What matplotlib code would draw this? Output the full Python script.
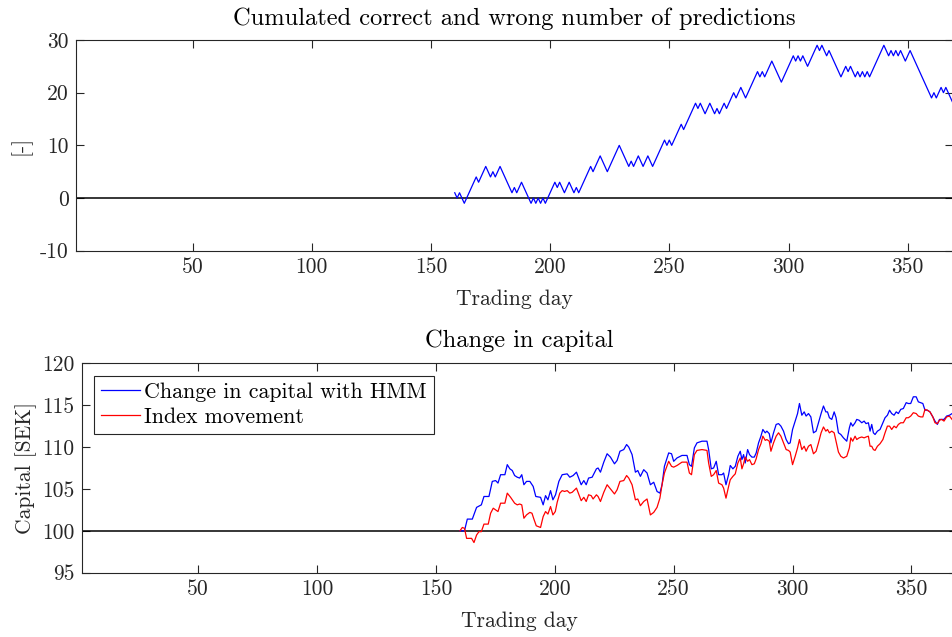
import matplotlib
matplotlib.use("Agg")
import matplotlib.pyplot as plt

plt.rcParams["font.family"] = ["cmr10", "DejaVu Serif"]
plt.rcParams["mathtext.fontset"] = "cm"
plt.rcParams["axes.unicode_minus"] = False
plt.rcParams["axes.formatter.use_mathtext"] = False

TXT = (0.15, 0.15, 0.15)
FS = 15.5
FS_TITLE = 17.6

# cumulated correct minus wrong predictions (turning points of the walk)
pred_days = [160, 161, 162, 164, 169, 170, 173, 175, 176, 177, 179, 184, 185, 186, 188,
             192, 193, 194, 195, 196, 197, 198, 202, 203, 204, 206, 208, 210, 211, 212,
             217, 218, 221, 224, 229, 233, 234, 235, 237, 239, 241, 243, 248, 249, 250,
             251, 255, 256, 261, 262, 263, 265, 267, 269, 270, 271, 273, 274, 277, 278,
             280, 282, 287, 288, 289, 290, 293, 297, 302, 303, 304, 305, 306, 308, 312,
             313, 314, 316, 317, 322, 324, 325, 326, 328, 329, 330, 331, 332, 333, 334,
             340, 342, 343, 344, 345, 346, 347, 349, 351, 360, 361, 362, 364, 365, 366,
             368, 369]
pred_vals = [1, 0, 1, -1, 4, 3, 6, 4, 5, 4, 6, 1, 2, 1, 3,
             -1, 0, -1, 0, -1, 0, -1, 3, 2, 3, 1, 3, 1, 2, 1,
             6, 5, 8, 5, 10, 6, 7, 6, 8, 6, 8, 6, 11, 10, 11,
             10, 14, 13, 18, 17, 18, 16, 18, 16, 17, 16, 18, 17, 20, 19,
             21, 19, 24, 23, 24, 23, 26, 22, 27, 26, 27, 26, 27, 25, 29,
             28, 29, 27, 28, 23, 25, 24, 25, 23, 24, 23, 24, 23, 24, 23,
             29, 27, 28, 27, 28, 27, 28, 26, 28, 19, 20, 19, 21, 20, 21,
             19, 18]

# capital with HMM strategy
hmm_days = [160.1, 162.0, 163.2, 165.3, 167.1, 169.1, 170.2, 172.3, 173.7, 175.1, 176.1,
            177.2, 179.0, 180.0, 181.1, 182.1, 183.1, 184.2, 185.2, 186.1, 187.0, 188.1,
            189.5, 190.9, 192.0, 194.0, 195.1, 196.1, 197.1, 198.2, 199.2, 200.3, 201.7,
            203.1, 205.2, 206.3, 207.7, 209.1, 211.1, 212.2, 213.2, 214.2, 215.7, 217.5,
            218.2, 219.2, 220.6, 222.0, 223.4, 225.1, 226.2, 227.4, 229.0, 230.2, 231.1,
            232.5, 233.9, 234.9, 236.0, 237.4, 238.8, 240.2, 241.6, 243.0, 244.2, 245.1,
            246.1, 247.9, 249.1, 250.0, 251.4, 253.5, 255.6, 256.6, 257.5,
            258.7, 259.8, 261.9, 264.0, 264.7, 265.8, 266.8, 267.9, 268.9, 270.3, 271.0,
            272.0, 273.1, 273.8, 274.9, 275.9, 277.0, 278.0, 278.7, 279.4, 280.1, 281.1,
            281.9, 282.9, 283.9, 284.7, 285.7, 286.7, 287.5, 288.5, 289.2, 290.2, 290.9,
            292.0, 293.1, 294.1, 295.1, 296.2, 297.3, 298.3, 299.0, 300.0, 301.1, 302.1,
            302.9, 303.9, 304.9, 305.7, 306.7, 307.7, 308.8, 309.9, 310.9, 312.0, 313.0,
            314.0, 314.7, 315.5, 316.5, 317.5, 318.3, 319.3, 320.3, 321.4, 322.8, 323.9,
            324.5, 325.3, 326.3, 327.0, 328.0, 329.1, 330.1, 330.9, 331.9, 332.6, 333.3,
            334.0, 334.7, 335.7, 336.8, 338.0, 338.9, 339.9, 340.8, 341.7, 342.7, 343.6,
            344.5, 345.5, 346.6, 347.8, 348.7, 349.7, 350.8, 352.0, 352.9, 353.9, 354.8,
            355.7, 356.7, 357.8, 359.0, 359.9, 360.9, 361.8, 362.7, 363.7, 364.8, 366.0,
            367.1]
hmm_vals = [100.0, 100.0, 101.4, 101.4, 102.8, 103.1, 104.1, 104.1, 105.9, 106.0, 105.7,
            106.7, 106.7, 107.9, 107.4, 107.2, 106.6, 106.4, 106.3, 106.7, 105.5, 105.9,
            105.9, 105.3, 104.1, 104.0, 103.1, 104.2, 103.7, 104.8, 103.7, 104.3, 105.9,
            106.7, 106.8, 106.4, 106.6, 107.0, 105.5, 106.0, 105.5, 106.3, 106.4, 107.4,
            107.5, 107.0, 108.2, 109.2, 108.8, 108.0, 108.4, 109.5, 109.7, 110.3, 110.0,
            109.1, 107.0, 107.2, 106.5, 107.3, 106.9, 105.5, 105.8, 104.7, 104.5, 105.5,
            107.7, 109.3, 109.2, 108.3, 108.7, 109.0, 109.0, 107.9, 107.7,
            109.9, 110.5, 110.7, 110.7, 109.7, 107.4, 107.5, 108.3, 106.7, 106.7, 106.9,
            105.5, 106.7, 107.8, 107.4, 107.7, 108.9, 109.5, 108.5, 109.1, 108.1, 109.7,
            109.1, 108.8, 108.8, 109.3, 110.5, 111.3, 112.1, 111.7, 111.9, 111.6, 110.5,
            111.7, 112.7, 112.8, 112.5, 111.9, 110.9, 110.4, 110.5, 112.1, 113.1, 114.0,
            115.2, 113.8, 114.2, 113.7, 114.0, 113.6, 111.7, 111.9, 112.9, 114.0, 114.9,
            114.2, 114.2, 113.5, 113.3, 114.2, 113.5, 111.7, 111.5, 111.1, 110.7, 112.3,
            112.9, 112.5, 112.9, 113.3, 113.2, 112.9, 113.1, 112.8, 112.9, 111.9, 112.7,
            111.7, 111.5, 111.9, 112.1, 112.9, 113.5, 113.8, 114.4, 114.0, 113.8, 114.2,
            114.0, 114.5, 114.6, 115.3, 115.2, 115.2, 116.0, 116.0, 115.4, 115.3, 115.2,
            114.4, 114.4, 114.2, 113.6, 113.1, 112.7, 113.3, 113.3, 113.3, 113.7, 113.8,
            114.0]

# index movement
idx_days = [160.1, 161.1, 162.0, 162.9, 165.0, 166.0, 167.1, 168.1, 169.1, 170.2, 172.0,
            173.0, 174.1, 175.1, 176.1, 177.2, 179.0, 180.0, 181.4, 183.1, 184.2, 185.2,
            186.1, 187.0, 188.1, 189.5, 190.4, 191.2, 192.2, 194.0, 195.1, 196.1, 197.1,
            198.2, 199.2, 200.2, 201.0, 202.1, 203.1, 204.1, 205.2, 206.3, 207.3, 209.1,
            211.1, 212.2, 213.2, 214.2, 215.3, 216.1, 217.5, 218.2, 219.2, 220.6, 222.0,
            223.4, 225.1, 226.2, 227.4, 229.0, 230.2, 231.1, 232.5, 233.9, 234.9, 236.0,
            237.4, 238.8, 240.2, 241.6, 243.0, 244.2, 245.1, 246.1, 247.9, 249.1, 250.0,
            251.4, 253.5, 255.6, 256.6, 257.5,
            258.7, 259.8, 261.9, 264.0, 264.7, 265.8, 266.8, 267.9, 268.9, 270.3, 271.0,
            272.0, 273.1, 273.8, 274.9, 275.9, 277.0, 278.0, 278.7, 279.4, 280.1, 281.1,
            281.9, 282.9, 283.9, 284.7, 285.7, 286.7, 287.5, 288.5, 289.2, 290.2, 290.9,
            292.0, 293.1, 294.1, 295.1, 296.2, 297.3, 298.3, 299.0, 300.0, 301.1, 302.1,
            302.9, 303.9, 304.9, 305.7, 306.7, 307.7, 308.8, 309.9, 310.9, 312.0, 313.0,
            314.0, 314.7, 315.5, 316.5, 317.5, 318.3, 319.3, 320.3, 321.4, 322.8, 323.9,
            324.5, 325.3, 326.3, 327.0, 328.0, 329.1, 330.1, 330.9, 331.9, 332.6, 333.3,
            334.0, 334.7, 335.7, 336.8, 338.0, 338.9, 339.9, 340.8, 341.7, 342.7, 343.6,
            344.5, 345.5, 346.6, 347.8, 348.7, 349.7, 350.8, 352.0, 352.9, 353.9, 354.8,
            355.7, 356.7, 357.8, 359.0, 359.9, 360.9, 361.8, 362.7, 363.7, 364.8, 366.0,
            367.1]
idx_vals = [100.0, 100.4, 100.3, 99.1, 99.1, 98.6, 99.5, 99.9, 99.9, 100.8, 100.8,
            102.1, 102.7, 102.5, 102.3, 103.3, 103.3, 104.5, 104.0, 103.3, 103.1, 103.2,
            103.1, 101.5, 101.9, 102.2, 102.1, 101.4, 100.6, 100.4, 101.7, 102.3, 102.0,
            102.9, 101.9, 102.3, 103.4, 104.5, 104.8, 104.7, 104.8, 104.5, 104.6, 105.1,
            103.6, 104.0, 103.5, 104.3, 104.2, 103.8, 104.3, 104.1, 103.5, 104.6, 105.5,
            105.0, 104.4, 104.9, 105.9, 106.0, 106.6, 106.3, 105.5, 103.7, 103.8, 103.0,
            103.5, 103.8, 101.9, 102.2, 102.8, 103.9, 105.5, 106.9, 108.3, 107.7, 107.6,
            107.8, 108.2, 108.2, 106.9, 106.7,
            109.1, 109.6, 109.7, 109.6, 108.1, 106.5, 106.7, 107.2, 105.7, 105.5, 105.1,
            103.9, 105.3, 106.1, 106.5, 106.8, 108.1, 108.7, 107.4, 108.0, 108.8, 108.3,
            108.5, 107.9, 108.0, 108.6, 109.7, 110.4, 111.3, 110.8, 110.9, 110.7, 109.5,
            110.5, 111.3, 111.7, 111.3, 110.5, 109.7, 109.6, 109.4, 107.9, 108.9, 109.9,
            110.9, 109.7, 110.1, 109.5, 110.1, 110.3, 109.2, 109.5, 110.5, 111.7, 112.4,
            111.9, 112.1, 111.7, 111.9, 111.7, 110.7, 109.4, 108.9, 108.7, 108.9, 109.9,
            111.1, 110.7, 111.3, 110.9, 111.1, 111.2, 111.1, 111.2, 111.3, 110.1, 110.1,
            109.7, 109.6, 110.1, 110.4, 110.9, 111.7, 112.5, 112.5, 112.1, 112.5, 112.3,
            112.7, 112.9, 112.9, 113.5, 113.5, 113.7, 114.1, 114.0, 113.7, 113.6, 113.6,
            114.5, 114.4, 114.2, 113.6, 112.9, 112.8, 113.2, 113.3, 113.1, 113.6, 113.7,
            113.3]

x_ticks = [50, 100, 150, 200, 250, 300, 350]

W, H = 952, 637
fig = plt.figure(figsize=(W / 100, H / 100), dpi=100)


def px_axes(left, top, right, bottom):
    return fig.add_axes([left / W, 1 - bottom / H, (right - left) / W, (bottom - top) / H])


def style(ax):
    for s in ax.spines.values():
        s.set_color(TXT)
        s.set_linewidth(0.8)
    ax.tick_params(direction="in", length=6, width=0.8, colors=TXT, labelsize=FS,
                   top=True, right=True, pad=5)
    ax.set_xticks(x_ticks)
    ax.set_xlim(1, 369)


ax1 = px_axes(75.7, 40, 953, 250.7)
style(ax1)
ax1.axhline(0, color="k", lw=1.1)
ax1.plot(pred_days, pred_vals, color=(0, 0, 1), lw=0.9)
ax1.set_ylim(-10, 30)
ax1.set_yticks([-10, 0, 10, 20, 30])
ax1.set_title("Cumulated correct and wrong number of predictions", fontsize=FS_TITLE,
              color="k", pad=11)
ax1.set_xlabel("Trading day", fontsize=FS, color=TXT, labelpad=9)
ax1.set_ylabel("[-]", fontsize=FS, color=TXT, labelpad=6)

ax2 = px_axes(81.7, 363.3, 956.6, 572.7)
style(ax2)
ax2.axhline(100, color="k", lw=1.1)
ax2.plot(hmm_days, hmm_vals, color=(0, 0, 1), lw=0.9, label="Change in capital with HMM")
ax2.plot(idx_days, idx_vals, color=(1, 0, 0), lw=0.9, label="Index movement")
ax2.set_ylim(95, 120)
ax2.set_yticks([95, 100, 105, 110, 115, 120])
ax2.set_title("Change in capital", fontsize=FS_TITLE, color="k", pad=12)
ax2.set_xlabel("Trading day", fontsize=FS, color=TXT, labelpad=9)
ax2.set_ylabel("Capital [SEK]", fontsize=FS, color=TXT, labelpad=4)

leg = ax2.legend(loc="upper left", bbox_to_anchor=(0.014, 0.939), borderaxespad=0,
                 fontsize=15.8, handlelength=1.8, handletextpad=0.2, labelspacing=0.25,
                 borderpad=0.3, fancybox=False, framealpha=1)
leg.get_frame().set_edgecolor(TXT)
leg.get_frame().set_linewidth(0.8)
for t in leg.get_texts():
    t.set_color("k")

fig.savefig("out.png", dpi=100)
